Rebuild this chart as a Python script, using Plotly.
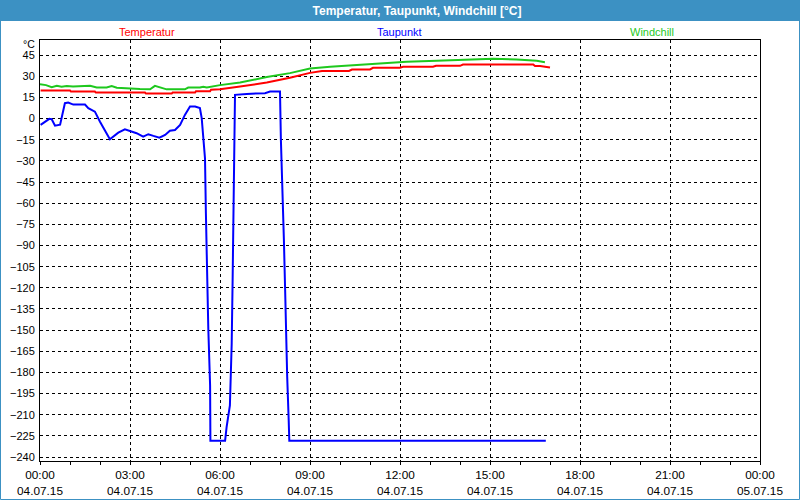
import pandas as pd
import plotly.graph_objects as go

# ---------------- data (hours after 04.07.15 00:00, °C) ----------------
temp_hours = [0.02, 1.0, 1.03, 1.83, 1.86, 3.5, 3.53, 4.39, 4.42, 5.17, 5.2, 5.67, 5.7, 6.0,
              6.67, 7.56, 8.33, 9.0, 9.4, 10.3, 10.4, 11.0, 11.1, 12.0, 12.1, 13.1, 13.2,
              14.0, 14.1, 16.44, 16.5, 16.67, 17.0]
temp_vals = [19.9, 19.9, 19.1, 19.1, 18.4, 18.4, 17.7, 17.7, 18.4, 18.4, 19.4, 19.4, 20.4, 20.8,
             22.7, 25.5, 28.9, 32.4, 33.8, 33.8, 34.8, 34.8, 36.0, 36.0, 36.7, 36.7, 37.4,
             37.4, 38.3, 38.3, 37.2, 37.2, 36.2]

dew_hours = [0.02, 0.31, 0.39, 0.5, 0.67, 0.83, 0.94, 1.11, 1.5, 1.61, 1.83, 2.0, 2.33, 2.61,
             2.83, 3.06, 3.22, 3.44, 3.61, 3.78, 3.98, 4.17, 4.33, 4.5, 4.67, 4.83, 5.0, 5.17,
             5.33, 5.39, 5.44, 5.5, 5.53, 5.56, 5.61, 5.67, 5.68, 6.17, 6.22, 6.33, 6.39, 6.42,
             6.44, 6.48, 6.5, 6.89, 7.5, 7.67, 8.0, 8.03, 8.09, 8.13, 8.17, 8.2, 8.24, 8.29,
             8.31, 16.86]
dew_vals = [-4.5, -0.2, -0.5, -5.0, -4.3, 10.9, 11.3, 9.9, 9.9, 7.4, 4.9, -2.2, -14.7, -10.0,
            -7.6, -9.3, -10.4, -12.8, -11.1, -12.3, -13.5, -11.6, -8.6, -8.1, -4.5, 2.6, 8.5, 8.5,
            7.4, 0.3, -14.0, -28.2, -67.2, -108.7, -148.9, -189.2, -228.4, -228.4, -218.8, -203.4,
            -159.5, -115.8, -72.0, -27.0, 16.8, 17.5, 18.0, 19.1, 19.1, -15.2, -50.7, -86.2,
            -120.5, -154.9, -183.3, -214.0, -228.4, -228.4]

wind_hours = [0.0, 0.2, 0.39, 0.56, 0.72, 0.89, 1.1, 1.56, 1.67, 1.89, 2.22, 2.39, 2.56, 3.33,
              3.67, 3.83, 4.0, 4.22, 4.83, 4.94, 5.33, 5.44, 5.56, 5.83, 6.0, 6.67, 7.56, 8.33,
              9.0, 9.67, 10.44, 11.11, 11.56, 12.22, 13.22, 14.44, 15.11, 15.89, 16.56, 16.83]
wind_vals = [24.4, 23.7, 22.3, 23.2, 22.6, 23.0, 22.8, 22.8, 23.2, 22.0, 22.0, 23.0, 21.9, 20.9,
             20.7, 23.2, 22.3, 20.7, 20.7, 22.0, 22.0, 22.6, 22.0, 23.0, 23.7, 25.5, 29.4, 32.2,
             35.5, 36.7, 37.9, 38.6, 39.5, 40.2, 41.0, 41.7, 42.4, 41.9, 41.0, 40.0]

series_names = ["Temperatur", "Taupunkt", "Windchill"]
title_text = "Temperatur, Taupunkt, Windchill [°C]"
unit_text = "°C"
y_ticks = list(range(-240, 46, 15))
start_day = "2015-07-04"
end_day = "2015-07-05"

# ---------------- styling ----------------
W, H = 800, 500
ML, MR, MT, MB = 40, 40, 40, 39
PW, PH = W - ML - MR, H - MT - MB
FONT = "Liberation Sans"
BAR = "#3c91c3"
COL = {"Temperatur": "#ff0000", "Taupunkt": "#0000ff", "Windchill": "#1ec81e"}


def px(xp):
    return (xp - ML) / PW


def py(yp):
    return (H - MB - yp) / PH


base = pd.Timestamp(start_day)


def to_time(hours):
    return base + pd.to_timedelta(hours, unit="h")


fig = go.Figure()
fig.add_trace(go.Scatter(x=to_time(wind_hours), y=wind_vals, mode="lines", name=series_names[2],
                         line=dict(color=COL["Windchill"], width=2)))
fig.add_trace(go.Scatter(x=to_time(temp_hours), y=temp_vals, mode="lines", name=series_names[0],
                         line=dict(color=COL["Temperatur"], width=2)))
fig.add_trace(go.Scatter(x=to_time(dew_hours), y=dew_vals, mode="lines", name=series_names[1],
                         line=dict(color=COL["Taupunkt"], width=2)))

fig.update_layout(
    width=W, height=H,
    margin=dict(l=ML, r=MR, t=MT, b=MB, pad=0, autoexpand=False),
    paper_bgcolor="white", plot_bgcolor="white",
    showlegend=False,
    font=dict(family=FONT, size=11, color="black"),
    title=dict(text=title_text, x=417 / W, xref="container", xanchor="center",
               y=1 - 10.5 / H, yref="container", yanchor="middle", automargin=False,
               font=dict(family=FONT, size=12, color="white", weight="bold")),
    xaxis=dict(
        type="date", automargin=False,
        range=[pd.Timestamp(start_day), pd.Timestamp(end_day)],
        tick0=pd.Timestamp(start_day), dtick=3 * 3600 * 1000,
        tickformat="%H:%M<br>%d.%m.%y",
        ticks="outside", ticklen=3, tickcolor="black",
        minor=dict(dtick=3600 * 1000, ticks="outside", ticklen=3, tickcolor="black", showgrid=False),
        showgrid=True, gridcolor="black", gridwidth=1, griddash="dot",
        showline=True, linecolor="black", linewidth=1, mirror=True,
        zeroline=False, fixedrange=True,
        tickfont=dict(family=FONT, size=11.8, color="black"),
    ),
    yaxis=dict(
        automargin=False,
        range=[-242.8, 55.7],
        tickvals=y_ticks,
        ticks="", ticklabelstandoff=2,
        showgrid=True, gridcolor="black", gridwidth=1, griddash="dot",
        showline=True, linecolor="black", linewidth=1, mirror=True,
        zeroline=False, fixedrange=True,
        tickfont=dict(family=FONT, size=11, color="black"),
    ),
)

# title bar and outer frame
fig.add_shape(type="rect", xref="paper", yref="paper", layer="below",
              x0=px(0), x1=px(W), y0=py(21), y1=py(0),
              fillcolor=BAR, line=dict(width=0))
fig.add_shape(type="rect", xref="paper", yref="paper",
              x0=px(0.5), x1=px(W - 0.5), y0=py(H - 0.5), y1=py(0.5),
              fillcolor="rgba(0,0,0,0)", line=dict(color=BAR, width=1))

# series captions
for name, xc in zip(series_names, [147, 399, 652]):
    fig.add_annotation(text=name, xref="paper", yref="paper", x=px(xc), y=py(32),
                       xanchor="center", yanchor="middle", showarrow=False,
                       font=dict(family=FONT, size=11, color=COL[name]))

fig.add_annotation(text=unit_text, xref="paper", yref="paper", x=px(37), y=py(43.5),
                   xanchor="right", yanchor="middle", showarrow=False,
                   font=dict(family=FONT, size=10.5, color="black"))

fig.write_html("out.html")
